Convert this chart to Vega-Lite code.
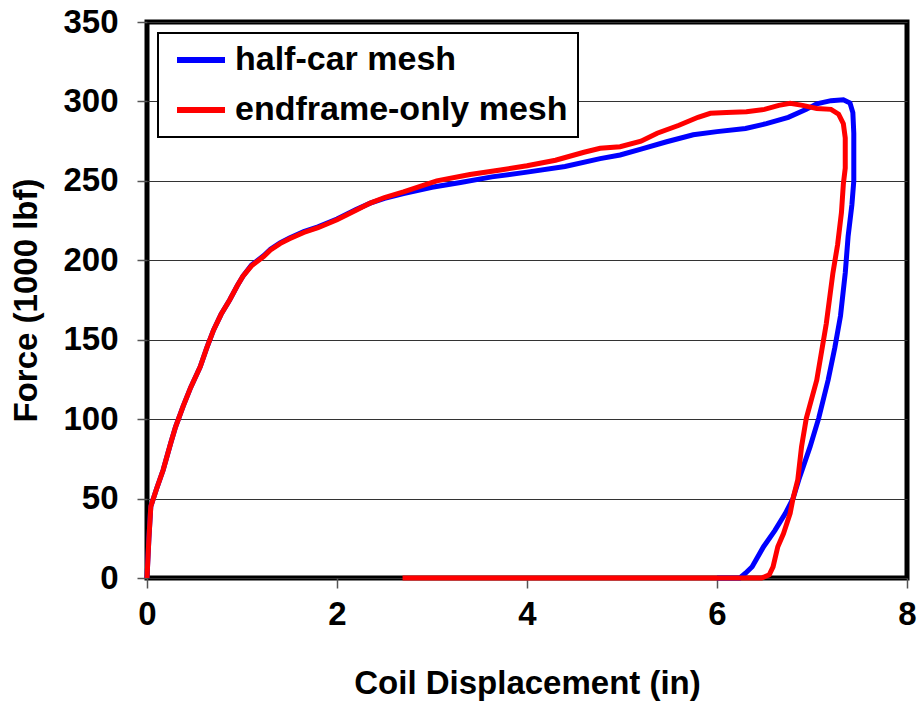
{
  "$schema": "https://vega.github.io/schema/vega-lite/v6.json",
  "width": 760,
  "height": 556,
  "autosize": {"type": "none"},
  "padding": {"left": 147, "top": 22, "right": 13, "bottom": 127},
  "background": "white",
  "config": {
    "font": "Liberation Sans",
    "view": {"stroke": "black", "strokeWidth": 5},
    "axis": {
      "labelFont": "Liberation Sans", "labelFontWeight": "bold", "labelFontSize": 33, "labelColor": "black",
      "titleFont": "Liberation Sans", "titleFontWeight": "bold", "titleFontSize": 33, "titleColor": "black",
      "domain": false, "tickColor": "#555", "tickSize": 10, "tickWidth": 1.5,
      "gridColor": "#333", "gridWidth": 1
    }
  },
  "data": {"values": [
    {"s":"half-car mesh","i":1,"x":0,"y":0},
    {"s":"half-car mesh","i":2,"x":0.02,"y":25},
    {"s":"half-car mesh","i":3,"x":0.04,"y":45},
    {"s":"half-car mesh","i":4,"x":0.1,"y":56},
    {"s":"half-car mesh","i":5,"x":0.17,"y":68},
    {"s":"half-car mesh","i":6,"x":0.25,"y":85},
    {"s":"half-car mesh","i":7,"x":0.3,"y":95},
    {"s":"half-car mesh","i":8,"x":0.38,"y":108},
    {"s":"half-car mesh","i":9,"x":0.46,"y":120},
    {"s":"half-car mesh","i":10,"x":0.56,"y":133},
    {"s":"half-car mesh","i":11,"x":0.63,"y":145},
    {"s":"half-car mesh","i":12,"x":0.7,"y":156},
    {"s":"half-car mesh","i":13,"x":0.78,"y":166},
    {"s":"half-car mesh","i":14,"x":0.87,"y":175},
    {"s":"half-car mesh","i":15,"x":0.95,"y":184},
    {"s":"half-car mesh","i":16,"x":1.01,"y":190},
    {"s":"half-car mesh","i":17,"x":1.1,"y":197},
    {"s":"half-car mesh","i":18,"x":1.23,"y":203},
    {"s":"half-car mesh","i":19,"x":1.3,"y":207},
    {"s":"half-car mesh","i":20,"x":1.4,"y":211},
    {"s":"half-car mesh","i":21,"x":1.5,"y":214},
    {"s":"half-car mesh","i":22,"x":1.65,"y":218},
    {"s":"half-car mesh","i":23,"x":1.8,"y":221},
    {"s":"half-car mesh","i":24,"x":2.0,"y":226},
    {"s":"half-car mesh","i":25,"x":2.2,"y":232},
    {"s":"half-car mesh","i":26,"x":2.35,"y":236},
    {"s":"half-car mesh","i":27,"x":2.5,"y":239},
    {"s":"half-car mesh","i":28,"x":2.7,"y":242},
    {"s":"half-car mesh","i":29,"x":3.0,"y":246},
    {"s":"half-car mesh","i":30,"x":3.3,"y":249},
    {"s":"half-car mesh","i":31,"x":3.63,"y":252.5},
    {"s":"half-car mesh","i":32,"x":4.0,"y":255.5},
    {"s":"half-car mesh","i":33,"x":4.4,"y":259},
    {"s":"half-car mesh","i":34,"x":4.77,"y":264},
    {"s":"half-car mesh","i":35,"x":4.98,"y":266.3},
    {"s":"half-car mesh","i":36,"x":5.2,"y":270},
    {"s":"half-car mesh","i":37,"x":5.47,"y":274.6},
    {"s":"half-car mesh","i":38,"x":5.75,"y":279},
    {"s":"half-car mesh","i":39,"x":6.0,"y":281},
    {"s":"half-car mesh","i":40,"x":6.3,"y":283},
    {"s":"half-car mesh","i":41,"x":6.52,"y":286},
    {"s":"half-car mesh","i":42,"x":6.75,"y":290},
    {"s":"half-car mesh","i":43,"x":6.94,"y":295},
    {"s":"half-car mesh","i":44,"x":7.05,"y":298.5},
    {"s":"half-car mesh","i":45,"x":7.2,"y":300.5},
    {"s":"half-car mesh","i":46,"x":7.33,"y":301},
    {"s":"half-car mesh","i":47,"x":7.4,"y":299},
    {"s":"half-car mesh","i":48,"x":7.43,"y":293},
    {"s":"half-car mesh","i":49,"x":7.44,"y":280},
    {"s":"half-car mesh","i":50,"x":7.44,"y":250},
    {"s":"half-car mesh","i":51,"x":7.42,"y":235},
    {"s":"half-car mesh","i":52,"x":7.38,"y":215},
    {"s":"half-car mesh","i":53,"x":7.35,"y":192},
    {"s":"half-car mesh","i":54,"x":7.3,"y":165},
    {"s":"half-car mesh","i":55,"x":7.24,"y":145},
    {"s":"half-car mesh","i":56,"x":7.17,"y":124.6},
    {"s":"half-car mesh","i":57,"x":7.07,"y":100.5},
    {"s":"half-car mesh","i":58,"x":6.98,"y":82.7},
    {"s":"half-car mesh","i":59,"x":6.86,"y":61.7},
    {"s":"half-car mesh","i":60,"x":6.8,"y":50},
    {"s":"half-car mesh","i":61,"x":6.72,"y":40.7},
    {"s":"half-car mesh","i":62,"x":6.61,"y":30},
    {"s":"half-car mesh","i":63,"x":6.49,"y":19.7},
    {"s":"half-car mesh","i":64,"x":6.37,"y":7.1},
    {"s":"half-car mesh","i":65,"x":6.3,"y":3},
    {"s":"half-car mesh","i":66,"x":6.24,"y":0},
    {"s":"half-car mesh","i":67,"x":6.0,"y":0},
    {"s":"endframe-only mesh","i":1,"x":0,"y":0},
    {"s":"endframe-only mesh","i":2,"x":0.02,"y":25},
    {"s":"endframe-only mesh","i":3,"x":0.04,"y":45},
    {"s":"endframe-only mesh","i":4,"x":0.1,"y":56},
    {"s":"endframe-only mesh","i":5,"x":0.17,"y":68},
    {"s":"endframe-only mesh","i":6,"x":0.25,"y":85},
    {"s":"endframe-only mesh","i":7,"x":0.3,"y":95},
    {"s":"endframe-only mesh","i":8,"x":0.38,"y":108},
    {"s":"endframe-only mesh","i":9,"x":0.46,"y":120},
    {"s":"endframe-only mesh","i":10,"x":0.56,"y":133},
    {"s":"endframe-only mesh","i":11,"x":0.63,"y":145},
    {"s":"endframe-only mesh","i":12,"x":0.7,"y":156},
    {"s":"endframe-only mesh","i":13,"x":0.78,"y":166},
    {"s":"endframe-only mesh","i":14,"x":0.87,"y":175},
    {"s":"endframe-only mesh","i":15,"x":0.95,"y":184},
    {"s":"endframe-only mesh","i":16,"x":1.01,"y":190},
    {"s":"endframe-only mesh","i":17,"x":1.1,"y":196.5},
    {"s":"endframe-only mesh","i":18,"x":1.23,"y":202.5},
    {"s":"endframe-only mesh","i":19,"x":1.3,"y":206.5},
    {"s":"endframe-only mesh","i":20,"x":1.4,"y":210.5},
    {"s":"endframe-only mesh","i":21,"x":1.5,"y":213.5},
    {"s":"endframe-only mesh","i":22,"x":1.65,"y":217.5},
    {"s":"endframe-only mesh","i":23,"x":1.8,"y":220.5},
    {"s":"endframe-only mesh","i":24,"x":2.0,"y":225.5},
    {"s":"endframe-only mesh","i":25,"x":2.2,"y":231.5},
    {"s":"endframe-only mesh","i":26,"x":2.35,"y":236},
    {"s":"endframe-only mesh","i":27,"x":2.5,"y":239.5},
    {"s":"endframe-only mesh","i":28,"x":2.7,"y":243},
    {"s":"endframe-only mesh","i":29,"x":3.05,"y":250},
    {"s":"endframe-only mesh","i":30,"x":3.4,"y":254},
    {"s":"endframe-only mesh","i":31,"x":3.72,"y":256.8},
    {"s":"endframe-only mesh","i":32,"x":4.0,"y":259.5},
    {"s":"endframe-only mesh","i":33,"x":4.3,"y":263},
    {"s":"endframe-only mesh","i":34,"x":4.6,"y":268},
    {"s":"endframe-only mesh","i":35,"x":4.77,"y":270.5},
    {"s":"endframe-only mesh","i":36,"x":4.98,"y":271.5},
    {"s":"endframe-only mesh","i":37,"x":5.2,"y":275},
    {"s":"endframe-only mesh","i":38,"x":5.37,"y":280},
    {"s":"endframe-only mesh","i":39,"x":5.6,"y":285},
    {"s":"endframe-only mesh","i":40,"x":5.8,"y":290},
    {"s":"endframe-only mesh","i":41,"x":5.93,"y":292.5},
    {"s":"endframe-only mesh","i":42,"x":6.1,"y":293},
    {"s":"endframe-only mesh","i":43,"x":6.31,"y":293.5},
    {"s":"endframe-only mesh","i":44,"x":6.5,"y":295},
    {"s":"endframe-only mesh","i":45,"x":6.65,"y":297.5},
    {"s":"endframe-only mesh","i":46,"x":6.77,"y":298.8},
    {"s":"endframe-only mesh","i":47,"x":6.9,"y":297.5},
    {"s":"endframe-only mesh","i":48,"x":7.05,"y":295.6},
    {"s":"endframe-only mesh","i":49,"x":7.2,"y":295},
    {"s":"endframe-only mesh","i":50,"x":7.28,"y":292},
    {"s":"endframe-only mesh","i":51,"x":7.33,"y":286},
    {"s":"endframe-only mesh","i":52,"x":7.35,"y":277},
    {"s":"endframe-only mesh","i":53,"x":7.35,"y":258},
    {"s":"endframe-only mesh","i":54,"x":7.33,"y":248},
    {"s":"endframe-only mesh","i":55,"x":7.31,"y":230},
    {"s":"endframe-only mesh","i":56,"x":7.27,"y":210},
    {"s":"endframe-only mesh","i":57,"x":7.22,"y":192},
    {"s":"endframe-only mesh","i":58,"x":7.15,"y":160},
    {"s":"endframe-only mesh","i":59,"x":7.05,"y":124.6},
    {"s":"endframe-only mesh","i":60,"x":6.94,"y":100.5},
    {"s":"endframe-only mesh","i":61,"x":6.89,"y":82.7},
    {"s":"endframe-only mesh","i":62,"x":6.85,"y":61.7},
    {"s":"endframe-only mesh","i":63,"x":6.8,"y":50},
    {"s":"endframe-only mesh","i":64,"x":6.77,"y":40.7},
    {"s":"endframe-only mesh","i":65,"x":6.7,"y":28},
    {"s":"endframe-only mesh","i":66,"x":6.64,"y":19.7},
    {"s":"endframe-only mesh","i":67,"x":6.59,"y":7},
    {"s":"endframe-only mesh","i":68,"x":6.55,"y":2},
    {"s":"endframe-only mesh","i":69,"x":6.47,"y":0},
    {"s":"endframe-only mesh","i":70,"x":2.69,"y":0}
  ]},
  "encoding": {
    "x": {"field": "x", "type": "quantitative",
      "scale": {"domain": [0, 8], "nice": false},
      "axis": {"values": [0, 2, 4, 6, 8], "grid": false, "title": "Coil Displacement (in)", "labelPadding": 10, "titlePadding": 36, "labelFlush": false}},
    "y": {"field": "y", "type": "quantitative",
      "scale": {"domain": [0, 350], "nice": false},
      "axis": {"values": [0, 50, 100, 150, 200, 250, 300, 350], "grid": true, "title": "Force (1000 lbf)", "labelPadding": 19, "titlePadding": 19}},
    "color": {"field": "s", "type": "nominal",
      "scale": {"domain": ["half-car mesh", "endframe-only mesh"], "range": ["#0000FF", "#FF0000"]},
      "legend": {"title": null, "orient": "top-left", "offset": 11, "fillColor": "white", "strokeColor": "black", "padding": 10,
        "symbolType": "stroke", "symbolSize": 2304, "symbolStrokeWidth": 6, "symbolOffset": 6, "clipHeight": 34,
        "labelFontSize": 34, "labelFont": "Liberation Sans", "labelFontWeight": "bold", "labelColor": "black", "rowPadding": 16, "labelOffset": 7, "labelLimit": 600,
        "encode": {"legend": {"update": {"strokeWidth": {"value": 2}}}}}},
    "order": {"field": "i", "type": "quantitative"}
  },
  "layer": [
    {"transform": [{"filter": "datum.s === 'half-car mesh'"}], "mark": {"type": "line", "strokeWidth": 5}},
    {"transform": [{"filter": "datum.s === 'endframe-only mesh'"}], "mark": {"type": "line", "strokeWidth": 5}}
  ]
}
